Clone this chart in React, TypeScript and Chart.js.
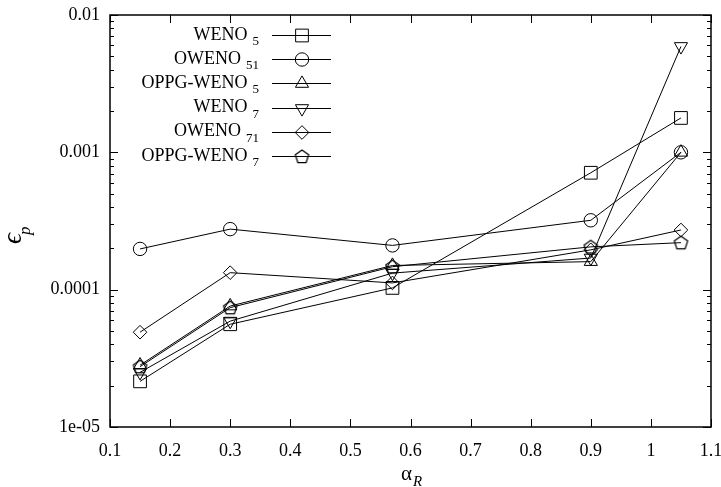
import React, { useEffect, useRef } from "react";
import { Chart, registerables } from "chart.js";
import { drawPoint } from "chart.js/helpers";

Chart.register(...registerables);

// ---- data ----
const alphaR = [0.15, 0.3, 0.57, 0.9, 1.05];
const weno5 = [2.15e-5, 5.6e-5, 1.03e-4, 7.1e-4, 1.78e-3];
const oweno51 = [1.98e-4, 2.76e-4, 2.1e-4, 3.2e-4, 1.0e-3];
const oppgWeno5 = [2.82e-5, 7.6e-5, 1.5e-4, 1.6e-4, 1.0e-3];
const weno7 = [2.5e-5, 5.9e-5, 1.32e-4, 1.7e-4, 5.9e-3];
const oweno71 = [4.9e-5, 1.33e-4, 1.12e-4, 1.95e-4, 2.72e-4];
const oppgWeno7 = [2.75e-5, 7.4e-5, 1.47e-4, 2.05e-4, 2.2e-4];

const seriesMain = ["WENO", "OWENO", "OPPG-WENO", "WENO", "OWENO", "OPPG-WENO"];
const seriesSub = ["5", "51", "5", "7", "71", "7"];

const xTickValues = [0.1, 0.2, 0.3, 0.4, 0.5, 0.6, 0.7, 0.8, 0.9, 1.0, 1.1];
const xTickLabels = ["0.1", "0.2", "0.3", "0.4", "0.5", "0.6", "0.7", "0.8", "0.9", "1", "1.1"];
const yTickValues = [1e-5, 1e-4, 1e-3, 1e-2];
const yTickLabels = ["1e-05", "0.0001", "0.001", "0.01"];

const FONT = "'Liberation Serif', 'Times New Roman', serif";

function makePentagon(r: number): HTMLCanvasElement {
  const size = 17;
  const c = document.createElement("canvas");
  c.width = size;
  c.height = size;
  const ctx = c.getContext("2d")!;
  const cx = size / 2;
  const cy = size / 2 + 0.5;
  ctx.beginPath();
  for (let i = 0; i < 5; i++) {
    const a = -Math.PI / 2 + (i * 2 * Math.PI) / 5;
    const px = cx + r * Math.cos(a);
    const py = cy + r * Math.sin(a);
    if (i === 0) ctx.moveTo(px, py);
    else ctx.lineTo(px, py);
  }
  ctx.closePath();
  ctx.strokeStyle = "#000";
  ctx.lineWidth = 1.3;
  ctx.stroke();
  return c;
}

export default function App() {
  const ref = useRef<HTMLCanvasElement>(null);

  useEffect(() => {
    if (!ref.current) return;
    const pentagon = makePentagon(7);
    const markers: any[] = [
      { pointStyle: "rect", radius: 9, rotation: 0 },
      { pointStyle: "circle", radius: 6.7, rotation: 0 },
      { pointStyle: "triangle", radius: 7.6, rotation: 0 },
      { pointStyle: "triangle", radius: 7.6, rotation: 180 },
      { pointStyle: "rectRot", radius: 6.8, rotation: 0 },
      { pointStyle: pentagon, radius: 7, rotation: 0 },
    ];
    const allSeries = [weno5, oweno51, oppgWeno5, weno7, oweno71, oppgWeno7];

    const datasets = allSeries.map((s, i) => ({
      label: seriesMain[i] + seriesSub[i],
      data: alphaR.map((x, j) => ({ x, y: s[j] })),
      borderColor: "#000",
      borderWidth: 1,
      backgroundColor: "rgba(0,0,0,0)",
      pointStyle: markers[i].pointStyle,
      pointRadius: markers[i].radius,
      pointRotation: markers[i].rotation,
      pointBorderColor: "#000",
      pointBackgroundColor: "rgba(0,0,0,0)",
      pointBorderWidth: 1,
      tension: 0,
      fill: false,
      clip: false as any,
    }));

    const framePlugin = {
      id: "frameAndDecor",
      afterDraw(chart: any) {
        const ctx = chart.ctx as CanvasRenderingContext2D;
        const { left, right, top, bottom } = chart.chartArea;
        const xs = chart.scales.x;
        const ys = chart.scales.y;
        ctx.save();
        ctx.strokeStyle = "#000";
        ctx.lineWidth = 1.5;
        ctx.strokeRect(left, top, right - left, bottom - top);
        ctx.lineWidth = 1;
        ctx.beginPath();
        // x ticks
        xTickValues.forEach((v) => {
          const px = Math.round(xs.getPixelForValue(v)) + 0.5;
          ctx.moveTo(px, bottom);
          ctx.lineTo(px, bottom - 8);
          ctx.moveTo(px, top);
          ctx.lineTo(px, top + 8);
        });
        // y major ticks
        yTickValues.forEach((v) => {
          const py = Math.round(ys.getPixelForValue(v)) + 0.5;
          ctx.moveTo(left, py);
          ctx.lineTo(left + 8, py);
          ctx.moveTo(right, py);
          ctx.lineTo(right - 8, py);
        });
        // y minor ticks
        for (let d = 0; d < yTickValues.length - 1; d++) {
          for (let k = 2; k <= 9; k++) {
            const v = yTickValues[d] * k;
            const py = Math.round(ys.getPixelForValue(v)) + 0.5;
            ctx.moveTo(left, py);
            ctx.lineTo(left + 4, py);
            ctx.moveTo(right, py);
            ctx.lineTo(right - 4, py);
          }
        }
        ctx.stroke();

        // legend
        const textRight = 259;
        chart.data.datasets.forEach((ds: any, i: number) => {
          const rowY = 35 + i * 24.2;
          ctx.strokeStyle = "#000";
          ctx.lineWidth = 1;
          ctx.beginPath();
          ctx.moveTo(272, Math.round(rowY) + 0.5);
          ctx.lineTo(331, Math.round(rowY) + 0.5);
          ctx.stroke();
          ctx.fillStyle = "rgba(0,0,0,0)";
          drawPoint(
            ctx,
            {
              pointStyle: markers[i].pointStyle,
              radius: markers[i].radius,
              rotation: markers[i].rotation,
              borderWidth: 1,
            } as any,
            302,
            Math.round(rowY) + 0.5
          );
          ctx.fillStyle = "#000";
          ctx.textBaseline = "alphabetic";
          ctx.font = `13px ${FONT}`;
          const subW = ctx.measureText(seriesSub[i]).width;
          ctx.textAlign = "left";
          ctx.fillText(seriesSub[i], textRight - subW, rowY + 10);
          ctx.font = `18px ${FONT}`;
          ctx.textAlign = "right";
          ctx.fillText(seriesMain[i], textRight - subW - 5, rowY + 4.5);
        });

        // x title: alpha_R
        ctx.fillStyle = "#000";
        ctx.textAlign = "left";
        ctx.textBaseline = "alphabetic";
        ctx.font = `21px ${FONT}`;
        const ax = 401;
        ctx.fillText("α", ax, 480);
        const aw = ctx.measureText("α").width;
        ctx.font = `italic 15px ${FONT}`;
        ctx.fillText("R", ax + aw + 1, 486);

        // y title: epsilon_p (rotated)
        ctx.save();
        ctx.translate(21, 244);
        ctx.rotate(-Math.PI / 2);
        ctx.font = `italic 27px ${FONT}`;
        ctx.fillText("ϵ", 0, 0);
        const ew = ctx.measureText("ϵ").width;
        ctx.font = `italic 17px ${FONT}`;
        ctx.fillText("p", ew - 2, 9);
        ctx.restore();

        ctx.restore();
      },
    };

    const chart = new Chart(ref.current, {
      type: "line",
      data: { datasets },
      options: {
        animation: false,
        responsive: false,
        devicePixelRatio: 1,
        layout: { padding: { top: 15, right: 10, left: 0, bottom: 0 } },
        plugins: {
          legend: { display: false },
          tooltip: { enabled: false },
        },
        elements: { line: { tension: 0 } },
        scales: {
          x: {
            type: "linear",
            min: 0.1,
            max: 1.1,
            grid: { display: false, drawTicks: false },
            border: { display: false },
            afterBuildTicks: (scale: any) => {
              scale.ticks = xTickValues.map((v) => ({ value: v }));
            },
            afterFit: (scale: any) => {
              scale.height = 60;
              scale.paddingLeft = 0;
              scale.paddingRight = 0;
            },
            ticks: {
              autoSkip: false,
              maxRotation: 0,
              minRotation: 0,
              padding: 13,
              color: "#000",
              font: { family: FONT, size: 18 },
              callback: (_v: any, i: number) => xTickLabels[i],
            },
          },
          y: {
            type: "logarithmic",
            min: 1e-5,
            max: 1e-2,
            grid: { display: false, drawTicks: false },
            border: { display: false },
            afterBuildTicks: (scale: any) => {
              scale.ticks = yTickValues.map((v) => ({ value: v }));
            },
            afterFit: (scale: any) => {
              scale.width = 110;
              scale.paddingTop = 0;
              scale.paddingBottom = 0;
            },
            ticks: {
              autoSkip: false,
              padding: 10,
              color: "#000",
              font: { family: FONT, size: 18 },
              callback: (_v: any, i: number) => yTickLabels[i],
            },
          },
        },
      } as any,
      plugins: [framePlugin],
    });
    return () => chart.destroy();
  }, []);

  return (
    <div
      style={{
        position: "absolute",
        left: 0,
        top: 0,
        width: 721,
        height: 487,
        background: "#fff",
      }}
    >
      <canvas
        ref={ref}
        width={721}
        height={487}
        style={{ width: 721, height: 487, display: "block" }}
      />
    </div>
  );
}
